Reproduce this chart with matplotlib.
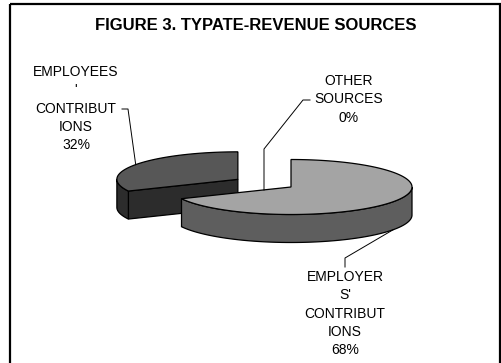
import numpy as np
import matplotlib.pyplot as plt
from matplotlib.patches import Polygon, Rectangle

plt.rcParams['font.family'] = ['Liberation Sans', 'DejaVu Sans']

title = "FIGURE 3. TYPATE-REVENUE SOURCES"
shares = [68, 32, 0]
label_lines = [["EMPLOYER", "S'", "CONTRIBUT", "IONS"],
               ["EMPLOYEES", "'", "CONTRIBUT", "IONS"],
               ["OTHER", "SOURCES"]]
explode = [0.0, 0.52, 0.0]
top_colors = ['#a4a4a4', '#575757', '#ffffff']
side_colors = ['#5e5e5e', '#2c2c2c', '#ffffff']

# pie geometry in pixel units (y grows downward)
cx, cy = 291, 187
rx, ry = 121, 27.5
depth = 28

fig = plt.figure(figsize=(5.02, 3.63), dpi=100)
ax = fig.add_axes([0, 0, 1, 1])
ax.set_xlim(0, 502)
ax.set_ylim(363, 0)
ax.axis('off')

ax.add_patch(Rectangle((10, 4), 490, 420, fill=False, ec='black', lw=1.6))
ax.text(255.5, 26, title, ha='center', va='center', fontsize=12,
        fontweight='bold')


def rim(c, t, dz=0.0):
    t = np.radians(t)
    return np.column_stack([c[0] + rx * np.cos(t), c[1] - ry * np.sin(t) + dz])


# slice angles: start at 12 o'clock, clockwise
slices = []
start = 90.0
for i, s in enumerate(shares):
    a0 = start
    a1 = start - s * 3.6
    start = a1
    mid = (a0 + a1) / 2
    m = np.radians(mid)
    c = (cx + explode[i] * rx * np.cos(m), cy - explode[i] * ry * np.sin(m))
    slices.append((i, a0, a1, mid, c))

lw = 0.9
# back slices first
for i, a0, a1, mid, c in sorted(slices, key=lambda q: q[4][1]):
    if shares[i] == 0:
        continue
    # cut faces
    for a, normal in ((a1, a1 - 90), (a0, a0 + 90)):
        if np.sin(np.radians(normal)) < -1e-9:
            p = rim(c, [a])[0]
            quad = [c, p, (p[0], p[1] + depth), (c[0], c[1] + depth)]
            ax.add_patch(Polygon(quad, closed=True, fc=side_colors[i],
                                 ec='black', lw=lw))
    # outer wall on the front half
    t = np.linspace(a1, a0, 400)
    vis = np.sin(np.radians(t)) <= 1e-9
    if vis.any():
        tv = t[vis]
        top = rim(c, tv)
        bot = rim(c, tv[::-1], depth)
        ax.add_patch(Polygon(np.vstack([top, bot]), closed=True,
                             fc=side_colors[i], ec='black', lw=lw))
    # top face
    arc = rim(c, np.linspace(a1, a0, 400))
    ax.add_patch(Polygon(np.vstack([[c], arc]), closed=True,
                         fc=top_colors[i], ec='black', lw=lw))

# labels
fs = 10
label_pos = [(345, 277), (76, 72), (349, 81)]
for i, lines in enumerate(label_lines):
    x, y = label_pos[i]
    for k, line in enumerate(lines + [f"{shares[i]}%"]):
        ax.text(x, y + k * 18.3, line, ha='center', va='center', fontsize=fs)

# leader lines
_, _, _, mid0, c0 = slices[0]
end0 = rim(c0, [mid0], depth)[0]
ax.plot([345, 345, end0[0]], [267, 258, end0[1]], color='black', lw=0.7)

_, _, _, mid1, c1 = slices[1]
end1 = rim(c1, [mid1])[0]
ax.plot([122, 128, end1[0]], [109, 109, end1[1]], color='black', lw=0.7)

ax.plot([310, 303, 264, 264], [100, 100, 149, 190], color='black', lw=0.7)

fig.savefig('out.png', dpi=100)
